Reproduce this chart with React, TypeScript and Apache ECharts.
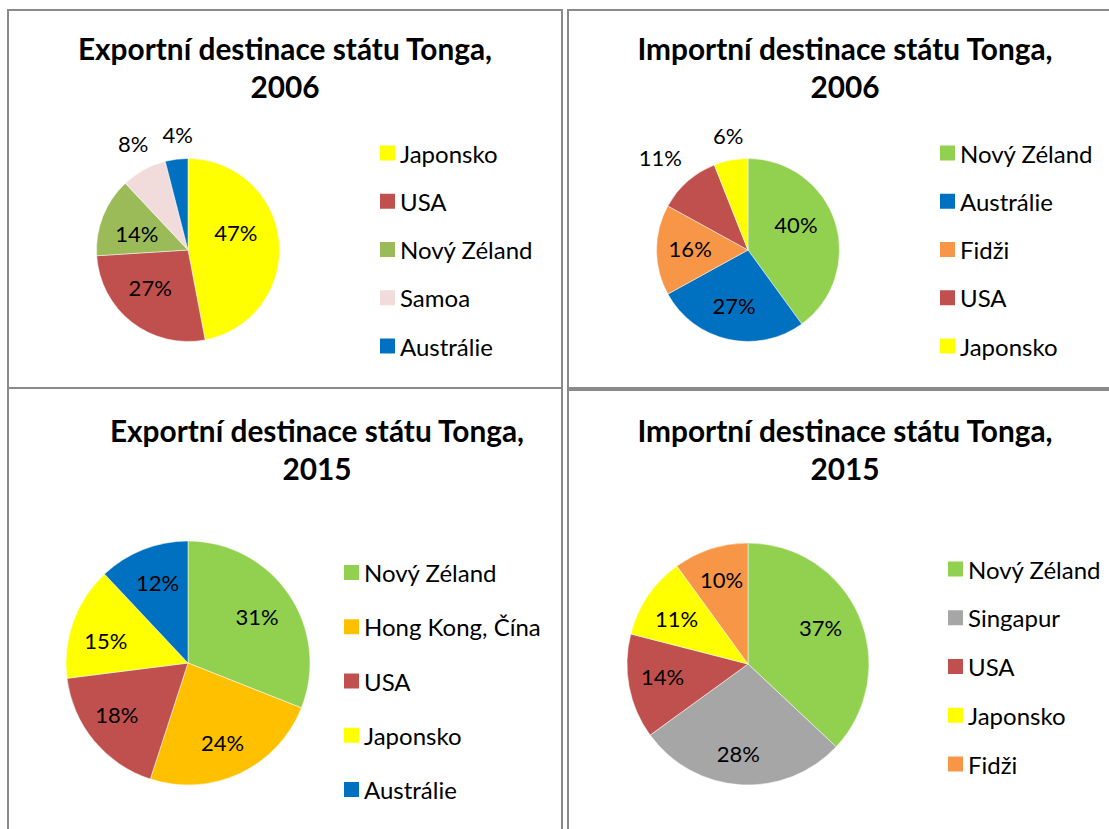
import React, { useEffect, useRef } from "react";
import * as echarts from "echarts";

const FONT = "Lato";

// ---- data ----
const exp2006Names = ["Japonsko", "USA", "Nový Zéland", "Samoa", "Austrálie"];
const exp2006Values = [47, 27, 14, 8, 4];
const exp2006Colors = ["#FFFF00", "#C0504D", "#9BBB59", "#F2DCDB", "#0070C0"];

const imp2006Names = ["Nový Zéland", "Austrálie", "Fidži", "USA", "Japonsko"];
const imp2006Values = [40, 27, 16, 11, 6];
const imp2006Colors = ["#92D050", "#0070C0", "#F79646", "#C0504D", "#FFFF00"];

const exp2015Names = ["Nový Zéland", "Hong Kong, Čína", "USA", "Japonsko", "Austrálie"];
const exp2015Values = [31, 24, 18, 15, 12];
const exp2015Colors = ["#92D050", "#FFC000", "#C0504D", "#FFFF00", "#0070C0"];

const imp2015Names = ["Nový Zéland", "Singapur", "USA", "Japonsko", "Fidži"];
const imp2015Values = [37, 28, 14, 11, 10];
const imp2015Colors = ["#92D050", "#A6A6A6", "#C0504D", "#FFFF00", "#F79646"];

const titleExp2006 = ["Exportní destinace státu Tonga,", "2006"];
const titleImp2006 = ["Importní destinace státu Tonga,", "2006"];
const titleExp2015 = ["Exportní destinace státu Tonga,", "2015"];
const titleImp2015 = ["Importní destinace státu Tonga,", "2015"];

// ---- layout ----
type Panel = {
  names: string[];
  values: number[];
  colors: string[];
  title: string[];
  titleX: number;
  titleY: number[];
  center: number[];
  r: number;
  inK: number;
  outside: number[];
  labelNudge: number[][];
  legendLeft: number;
  legendTop: number;
  legendGap: number;
};

const panels: Panel[] = [
  {
    names: exp2006Names, values: exp2006Values, colors: exp2006Colors, title: titleExp2006,
    titleX: 285, titleY: [48, 86.5], center: [188, 250], r: 91.5, inK: 1.14, outside: [3, 4],
    labelNudge: [[-7, -12], [-4, -6], [0, 4], [4, 0], [5, 5]],
    legendLeft: 380, legendTop: 141, legendGap: 24.25,
  },
  {
    names: imp2006Names, values: imp2006Values, colors: imp2006Colors, title: titleImp2006,
    titleX: 845, titleY: [48, 86.5], center: [748, 250], r: 91.5, inK: 1.22, outside: [3, 4],
    labelNudge: [[-8, -7], [-1, -2], [1, -2], [-7, -1], [3, 5]],
    legendLeft: 940, legendTop: 141, legendGap: 24.25,
  },
  {
    names: exp2015Names, values: exp2015Values, colors: exp2015Colors, title: titleExp2015,
    titleX: 317, titleY: [430, 468.6], center: [188, 663], r: 122, inK: 1.4, outside: [],
    labelNudge: [[-4, 3], [-3, 0], [-3, -5], [1, 7], [2, 2]],
    legendLeft: 344, legendTop: 560.5, legendGap: 30.25,
  },
  {
    names: imp2015Names, values: imp2015Values, colors: imp2015Colors, title: titleImp2015,
    titleX: 845, titleY: [430, 468.6], center: [748, 664], r: 121, inK: 1.42, outside: [],
    labelNudge: [[-9, -1], [-4, 1], [2, -4], [2, 4], [1, 0]],
    legendLeft: 948, legendTop: 557, legendGap: 24.75,
  },
];

const labelStyle = {
  show: true,
  position: "inside",
  formatter: "{c}%",
  color: "#000",
  fontSize: 22,
  fontFamily: FONT,
};

function buildOption() {
  const series: any[] = [];
  const legends: any[] = [];
  const border = { fill: "none", stroke: "#8a8a8a", lineWidth: 2 };
  const graphic: any[] = [
    { type: "rect", shape: { x: 8, y: 10, width: 554, height: 378 }, style: border },
    { type: "rect", shape: { x: 568, y: 10, width: 560, height: 378 }, style: border },
    { type: "rect", shape: { x: 8, y: 388, width: 554, height: 460 }, style: border },
    { type: "rect", shape: { x: 568, y: 390, width: 560, height: 460 }, style: border },
  ];

  panels.forEach((p) => {
    const data = p.names.map((n, j) => ({ name: n, value: p.values[j], itemStyle: { color: p.colors[j] } }));
    series.push({
      type: "pie",
      center: p.center,
      radius: p.r,
      startAngle: 90,
      clockwise: true,
      silent: true,
      label: { show: false },
      labelLine: { show: false },
      itemStyle: { borderColor: "#ffffff", borderWidth: 0.5 },
      emphasis: { disabled: true },
      data,
    });
    const labelData = (show: (j: number) => boolean) =>
      p.names.map((n, j) => ({
        name: n,
        value: p.values[j],
        label: { show: show(j), offset: p.labelNudge[j] },
      }));
    series.push({
      type: "pie",
      center: p.center,
      radius: [0, p.r * p.inK],
      startAngle: 90,
      clockwise: true,
      silent: true,
      legendHoverLink: false,
      itemStyle: { color: "rgba(0,0,0,0)", borderWidth: 0 },
      label: labelStyle,
      labelLine: { show: false },
      emphasis: { disabled: true },
      data: labelData((j) => p.outside.indexOf(j) < 0),
    });
    if (p.outside.length) {
      series.push({
        type: "pie",
        center: p.center,
        radius: [0, p.r * 2.6],
        startAngle: 90,
        clockwise: true,
        silent: true,
        legendHoverLink: false,
        itemStyle: { color: "rgba(0,0,0,0)", borderWidth: 0 },
        label: labelStyle,
        labelLine: { show: false },
        emphasis: { disabled: true },
        data: labelData((j) => p.outside.indexOf(j) >= 0),
      });
    }
    legends.push({
      orient: "vertical",
      left: p.legendLeft,
      top: p.legendTop,
      itemGap: p.legendGap,
      itemWidth: 15,
      itemHeight: 15,
      icon: "rect",
      selectedMode: false,
      padding: 0,
      textStyle: { fontFamily: FONT, fontSize: 24, color: "#000" },
      data: p.names.map((n, j) => ({ name: n, itemStyle: { color: p.colors[j], borderWidth: 0 } })),
    });
    p.title.forEach((t, k) => {
      graphic.push({
        type: "text",
        x: p.titleX,
        y: p.titleY[k],
        style: {
          text: t,
          fontFamily: FONT,
          fontWeight: "bold",
          fontSize: 29.8,
          fill: "#000",
          align: "center",
          verticalAlign: "middle",
        },
      });
    });
  });

  return {
    animation: false,
    backgroundColor: "#ffffff",
    legend: legends,
    graphic,
    series,
  };
}

export default function App() {
  const ref = useRef<HTMLDivElement>(null);
  useEffect(() => {
    if (!ref.current) return;
    const chart = echarts.init(ref.current, undefined, { renderer: "svg" });
    chart.setOption(buildOption() as any);
    return () => chart.dispose();
  }, []);
  return (
    <div
      ref={ref}
      style={{ position: "absolute", left: 0, top: 0, width: 1109, height: 829, background: "#fff" }}
    />
  );
}
